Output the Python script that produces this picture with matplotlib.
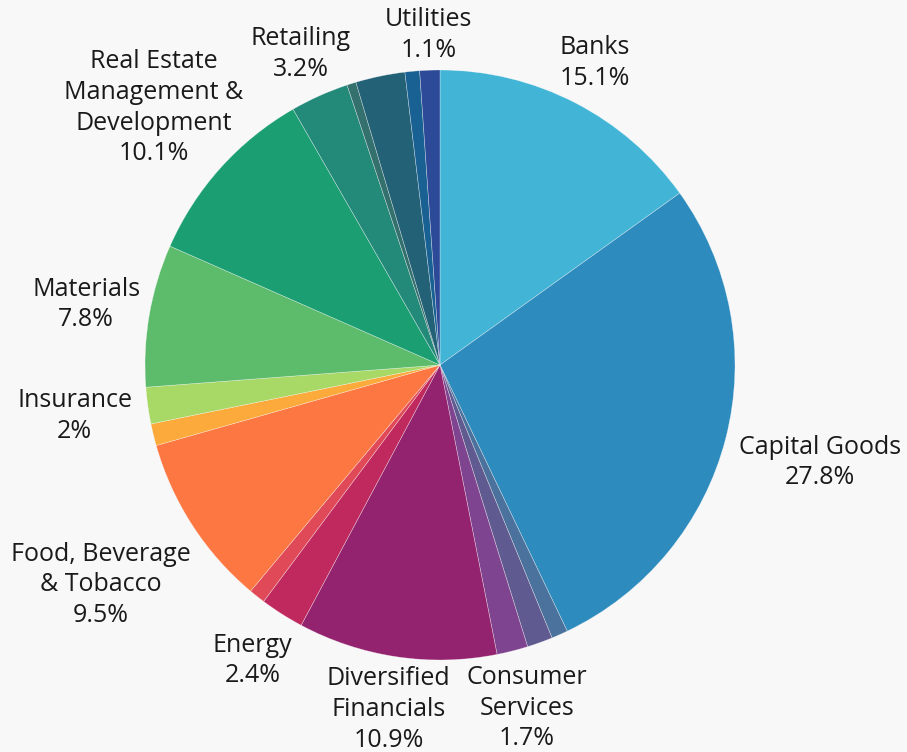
import numpy as np
import matplotlib
matplotlib.use("Agg")
import matplotlib.pyplot as plt

# industry group weights in %, alphabetical, pie goes clockwise from 12 o'clock
sectors = [
    "Banks", "Capital Goods", "Commercial & Professional Services",
    "Consumer Durables & Apparel", "Consumer Services", "Diversified Financials",
    "Energy", "Food & Staples Retailing", "Food, Beverage & Tobacco",
    "Household & Personal Products", "Insurance", "Materials",
    "Real Estate Management & Development", "Retailing",
    "Semiconductors & Semiconductor Equipment", "Software & Services",
    "Transportation", "Utilities",
]
weights = [15.1, 27.8, 0.9, 1.4, 1.7, 10.9, 2.4, 0.9, 9.5, 1.2, 2.0, 7.8,
           10.1, 3.2, 0.5, 2.7, 0.8, 1.1]

# which slices get a label, and how the label text wraps
label_text = {
    "Banks": "Banks",
    "Capital Goods": "Capital Goods",
    "Consumer Services": "Consumer\nServices",
    "Diversified Financials": "Diversified\nFinancials",
    "Energy": "Energy",
    "Food, Beverage & Tobacco": "Food, Beverage\n& Tobacco",
    "Insurance": "Insurance",
    "Materials": "Materials",
    "Real Estate Management & Development": "Real Estate\nManagement &\nDevelopment",
    "Retailing": "Retailing",
    "Utilities": "Utilities",
}
# distance of label centre from the pie centre (in radii)
label_dist = {
    "Banks": 1.15, "Capital Goods": 1.33, "Consumer Services": 1.2,
    "Diversified Financials": 1.18, "Energy": 1.186,
    "Food, Beverage & Tobacco": 1.37, "Insurance": 1.25, "Materials": 1.217,
    "Real Estate Management & Development": 1.305, "Retailing": 1.156,
    "Utilities": 1.12,
}

colors = ["#42b5d6", "#2e8bbd", "#4a729d", "#5f5b90", "#7f4490", "#93236f",
          "#c0295e", "#e04a58", "#fd7743", "#fcaa3b", "#a8d865", "#5dbc6c",
          "#1b9f72", "#238a7a", "#34706d", "#236176", "#1a6193", "#2c4a97"]

bg = "#f8f8f8"
W, H = 907, 752
cx, cy, R = 440, 365, 295

plt.rcParams["font.family"] = ["Open Sans", "DejaVu Sans"]

fig = plt.figure(figsize=(W / 100, H / 100), dpi=100, facecolor=bg)
ax = fig.add_axes([0, 0, 1, 1])
ax.set_facecolor(bg)

wedges, _ = ax.pie(weights, colors=colors, startangle=90, counterclock=False,
                   radius=1.0, wedgeprops=dict(edgecolor="#ffffff80", linewidth=0.4))

for name, w, wd in zip(sectors, weights, wedges):
    if name not in label_text:
        continue
    mid = np.deg2rad((wd.theta1 + wd.theta2) / 2)
    d = label_dist[name]
    ax.text(d * np.cos(mid), d * np.sin(mid), f"{label_text[name]}\n{w:g}%",
            ha="center", va="center", fontsize=18, color="#1a1a1a",
            linespacing=1.3)

ax.set_xlim(-cx / R, (W - cx) / R)
ax.set_ylim((cy - H) / R, cy / R)
ax.set_aspect("auto")
ax.axis("off")

fig.savefig("out.png", dpi=100, facecolor=bg)
